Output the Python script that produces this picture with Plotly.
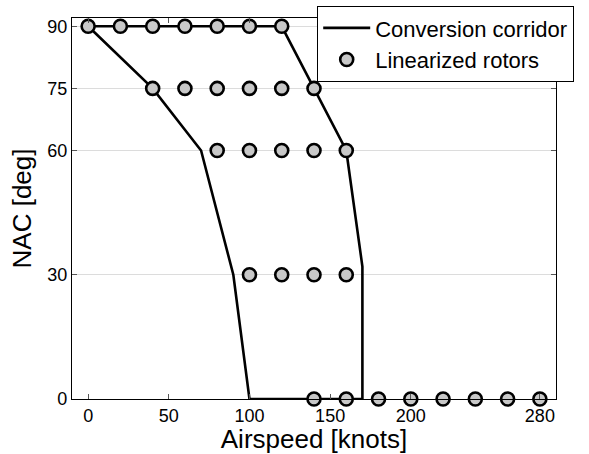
import plotly.graph_objects as go

# Conversion corridor boundary (airspeed in knots, nacelle angle in deg)
corridor_speed = [0, 120, 140, 160, 170, 170, 100, 90, 70, 40, 0]
corridor_nac = [90, 90, 75, 60, 32, 0, 0, 30, 60, 75, 90]

# Linearization points, grouped by nacelle angle
nac_levels = [90, 75, 60, 30, 0]
speeds_nac90 = [0, 20, 40, 60, 80, 100, 120]
speeds_nac75 = [40, 60, 80, 100, 120, 140]
speeds_nac60 = [80, 100, 120, 140, 160]
speeds_nac30 = [100, 120, 140, 160]
speeds_nac0 = [140, 160, 180, 200, 220, 240, 260, 280]

x_ticks = [0, 50, 100, 150, 200, 280]
y_ticks = [0, 30, 60, 75, 90]

speed_groups = [speeds_nac90, speeds_nac75, speeds_nac60, speeds_nac30, speeds_nac0]
pts_x, pts_y = [], []
for nac, speeds in zip(nac_levels, speed_groups):
    pts_x += speeds
    pts_y += [nac] * len(speeds)

FONT = "Liberation Sans, Arial, Helvetica, sans-serif"

fig = go.Figure()
fig.add_trace(go.Scatter(
    x=corridor_speed, y=corridor_nac, mode="lines",
    line=dict(color="black", width=2.6),
    name="Conversion corridor",
))
fig.add_trace(go.Scatter(
    x=pts_x, y=pts_y, mode="markers",
    marker=dict(size=13, color="#c8c8c8", line=dict(color="black", width=2.6)),
    name="Linearized rotors", cliponaxis=False,
))

axis_common = dict(
    showline=True, linecolor="black", linewidth=1.3, mirror="allticks",
    ticks="inside", ticklen=5, tickcolor="#555555", tickwidth=1,
    zeroline=False,
    tickfont=dict(family=FONT, size=18, color="black"),
)

fig.update_layout(
    width=589, height=454,
    margin=dict(l=72, r=33, t=18, b=55, autoexpand=False),
    paper_bgcolor="white", plot_bgcolor="white",
    font=dict(family=FONT, color="black"),
    showlegend=True,
    legend=dict(
        x=0.506, y=1.032, xanchor="left", yanchor="top",
        bgcolor="white", bordercolor="black", borderwidth=1.3,
        font=dict(family=FONT, size=22, color="black"),
        itemwidth=47, tracegroupgap=0,
    ),
    xaxis=dict(
        range=[-10, 290], tickvals=x_ticks, showgrid=False,
        title=dict(text="Airspeed [knots]", font=dict(family=FONT, size=26), standoff=0),
        **axis_common,
    ),
    yaxis=dict(
        range=[0, 92], tickvals=y_ticks, showgrid=True, gridcolor="#dcdcdc", gridwidth=1,
        title=dict(text="NAC [deg]", font=dict(family=FONT, size=26), standoff=8),
        **axis_common,
    ),
)

fig.write_html("out.html")
